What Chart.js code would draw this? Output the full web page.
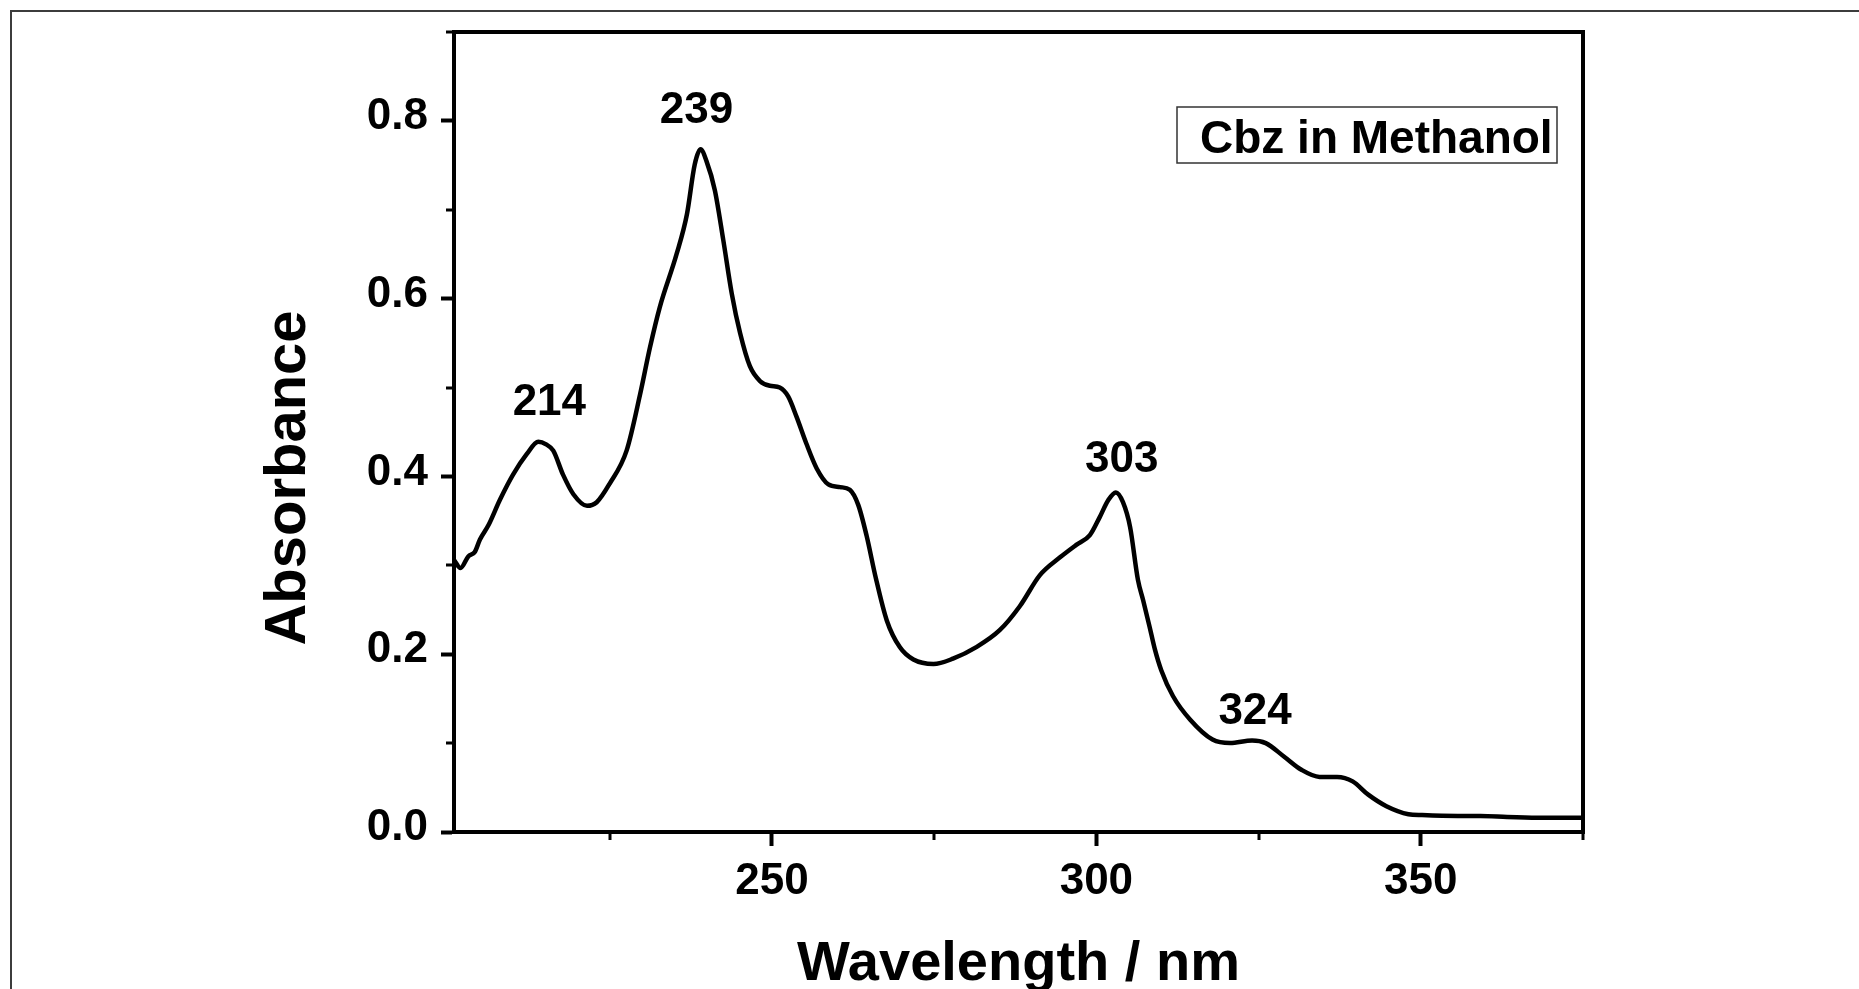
<!DOCTYPE html>
<html>
<head>
<meta charset="utf-8">
<title>Cbz in Methanol - absorption spectrum</title>
<script src="https://cdn.jsdelivr.net/npm/chart.js@4.4.1/dist/chart.umd.min.js"></script>
<style>
  html, body { margin: 0; padding: 0; background: #fff; overflow: hidden; }
  #wrap { position: relative; width: 1859px; height: 989px; }
  #wrap canvas { position: absolute; left: 0; top: 0; }
  /* page frame, only top and left edges fall inside the view */
  #frame { position: absolute; left: 10px; top: 10px; width: 1900px; height: 1000px;
           border-top: 2px solid #3c3c3c; border-left: 2px solid #3c3c3c; pointer-events: none; }
</style>
</head>
<body>
<div id="wrap">
  <canvas id="spectrum" width="1859" height="989"></canvas>
  <div id="frame"></div>
</div>
<script>
const wavelength = [
  201.0, 202.0, 203.2, 204.2, 205.0, 206.3, 208.1, 210.1, 212.2, 214.0,
  215.2, 216.3, 217.8, 219.4, 221.5, 223.0, 225.0, 227.6, 229.7, 231.2,
  232.7, 235.3, 236.9, 238.1, 239.0, 239.9, 241.2, 242.5, 243.8, 245.1,
  246.6, 248.2, 249.7, 251.2, 252.5, 253.8, 255.3, 256.9, 258.7, 260.5,
  262.0, 263.3, 264.6, 266.0, 267.7, 269.7, 271.8, 274.9, 277.9, 281.5,
  285.1, 288.2, 291.3, 294.4, 296.9, 299.0, 300.5, 301.8, 303.0, 304.1,
  305.2, 306.4, 307.2, 308.2, 309.0, 310.0, 311.8, 314.5, 317.9, 320.6,
  324.0, 326.1, 328.9, 331.6, 334.4, 337.1, 339.5, 341.9, 344.7, 348.1,
  350.2, 355.7, 359.2, 363.3, 368.8, 375.0
];
const absorbance = [
  0.306, 0.297, 0.310, 0.315, 0.329, 0.345, 0.374, 0.402, 0.425, 0.439,
  0.436, 0.429, 0.402, 0.380, 0.367, 0.371, 0.392, 0.429, 0.493, 0.545,
  0.590, 0.650, 0.695, 0.751, 0.768, 0.755, 0.722, 0.666, 0.606, 0.561,
  0.524, 0.507, 0.502, 0.500, 0.490, 0.467, 0.437, 0.409, 0.391, 0.388,
  0.385, 0.368, 0.333, 0.286, 0.238, 0.208, 0.194, 0.189, 0.195, 0.208,
  0.227, 0.254, 0.289, 0.309, 0.323, 0.334, 0.354, 0.373, 0.382, 0.371,
  0.343, 0.284, 0.261, 0.231, 0.206, 0.182, 0.153, 0.126, 0.104, 0.100,
  0.103, 0.100, 0.085, 0.070, 0.062, 0.062, 0.057, 0.042, 0.029, 0.020,
  0.019, 0.018, 0.018, 0.017, 0.016, 0.016
];

// band maxima marked on the curve (nm)
const peaks = [214, 239, 303, 324];
// label nudges in px: [dx, gap above the curve]
const peakNudge = [[11, 27], [-4, 26], [6, 20], [3, 16]];

const xMajorTicks = [250, 300, 350];
const xMinorTicks = [225, 275, 325, 375];
const yMajorTicks = [0, 0.2, 0.4, 0.6, 0.8];
const yMinorTicks = [0.1, 0.3, 0.5, 0.7, 0.9];

const seriesName = 'Cbz in Methanol';
const FONT = '"Liberation Sans", Arial, Helvetica, sans-serif';

// top/right axes, minor ticks, peak labels, y title and the legend box
const extras = {
  id: 'extras',
  afterDraw(chart) {
    const { ctx, chartArea: a, scales: { x, y } } = chart;
    ctx.save();
    ctx.strokeStyle = '#000';
    ctx.fillStyle = '#000';

    ctx.lineWidth = 4;
    ctx.beginPath();
    ctx.moveTo(a.left - 2, a.top);
    ctx.lineTo(a.right, a.top);
    ctx.lineTo(a.right, a.bottom + 2);
    ctx.stroke();

    ctx.lineWidth = 3;
    ctx.beginPath();
    xMinorTicks.forEach(v => {
      const px = Math.round(x.getPixelForValue(v));
      ctx.moveTo(px, a.bottom);
      ctx.lineTo(px, a.bottom + 8);
    });
    yMinorTicks.forEach(v => {
      const py = Math.round(y.getPixelForValue(v));
      ctx.moveTo(a.left, py);
      ctx.lineTo(a.left - 8, py);
    });
    ctx.stroke();

    ctx.font = 'bold 44px ' + FONT;
    ctx.textAlign = 'center';
    ctx.textBaseline = 'alphabetic';
    peaks.forEach((nm, i) => {
      const val = absorbance[wavelength.indexOf(nm)];
      const px = x.getPixelForValue(nm) + peakNudge[i][0];
      const py = y.getPixelForValue(val) - peakNudge[i][1];
      ctx.fillText(String(nm), px, py);
    });

    // rotated y title
    ctx.save();
    ctx.translate(a.left - 149, (a.top + a.bottom) / 2 + 46);
    ctx.rotate(-Math.PI / 2);
    ctx.font = 'bold 58px ' + FONT;
    ctx.fillText('Absorbance', 0, 0);
    ctx.restore();

    // legend box
    const boxR = a.right - 26, boxT = a.top + 75, boxW = 380, boxH = 56;
    ctx.lineWidth = 1.5;
    ctx.strokeStyle = '#333';
    ctx.strokeRect(boxR - boxW, boxT, boxW, boxH);
    ctx.font = 'bold 46px ' + FONT;
    ctx.textAlign = 'left';
    ctx.fillText(seriesName, boxR - boxW + 23, boxT + 46);

    ctx.restore();
  }
};

new Chart(document.getElementById('spectrum'), {
  type: 'line',
  data: {
    datasets: [{
      label: seriesName,
      data: wavelength.map((w, i) => ({ x: w, y: absorbance[i] })),
      borderColor: '#000',
      borderWidth: 4.5,
      pointRadius: 0,
      fill: false,
      cubicInterpolationMode: 'monotone',
      borderJoinStyle: 'round',
      borderCapStyle: 'round'
    }]
  },
  options: {
    responsive: false,
    animation: false,
    devicePixelRatio: 1,
    layout: { padding: { left: 250, top: 32, right: 276, bottom: 0 } },
    plugins: {
      legend: { display: false },
      tooltip: { enabled: false }
    },
    scales: {
      x: {
        type: 'linear',
        min: 201,
        max: 375,
        afterBuildTicks: s => { s.ticks = xMajorTicks.map(value => ({ value })); },
        afterFit: s => { s.height = 157; },
        ticks: {
          color: '#000',
          padding: 9,
          maxRotation: 0,
          font: { family: FONT, size: 44, weight: 'bold' },
          callback: v => String(v)
        },
        grid: { drawOnChartArea: false, drawTicks: true, tickLength: 14, tickWidth: 4, tickColor: '#000' },
        border: { display: true, color: '#000', width: 4 },
        title: {
          display: true,
          text: 'Wavelength / nm',
          color: '#000',
          font: { family: FONT, size: 56, weight: 'bold', lineHeight: 0.8 },
          padding: { top: 0, bottom: 2 }
        }
      },
      y: {
        min: 0,
        max: 0.9,
        afterBuildTicks: s => { s.ticks = yMajorTicks.map(value => ({ value })); },
        afterFit: s => { s.width = 204; },
        ticks: {
          color: '#000',
          padding: 13,
          labelOffset: -4,
          font: { family: FONT, size: 44, weight: 'bold', lineHeight: 0.8 },
          callback: v => v.toFixed(1)
        },
        grid: { drawOnChartArea: false, drawTicks: true, tickLength: 13, tickWidth: 4, tickColor: '#000' },
        border: { display: true, color: '#000', width: 4 }
      }
    }
  },
  plugins: [extras]
});
</script>
</body>
</html>
